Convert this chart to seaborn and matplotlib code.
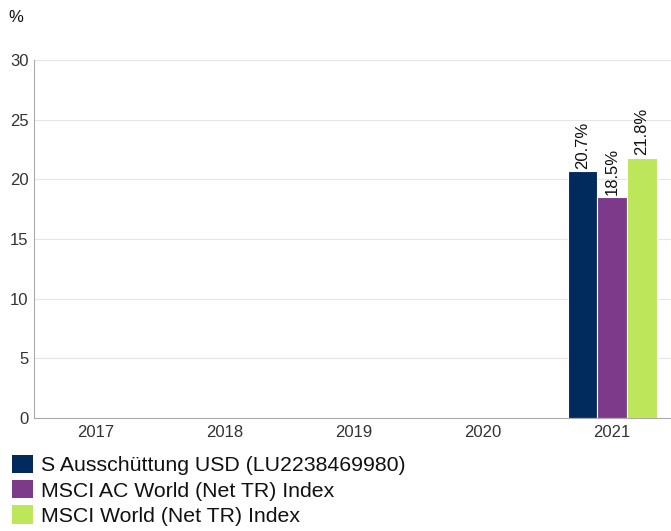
import matplotlib
matplotlib.use("Agg")
import matplotlib.pyplot as plt
import seaborn as sns
import pandas as pd
import numpy as np
from matplotlib.patches import Patch

years = ["2017", "2018", "2019", "2020", "2021"]
series = ["S Ausschüttung USD (LU2238469980)", "MSCI AC World (Net TR) Index", "MSCI World (Net TR) Index"]
fund = [np.nan, np.nan, np.nan, np.nan, 20.7]
acwi = [np.nan, np.nan, np.nan, np.nan, 18.5]
world = [np.nan, np.nan, np.nan, np.nan, 21.8]
colors = ["#002b5c", "#7e3a8a", "#bde65a"]
yticks = [0, 5, 10, 15, 20, 25, 30]

rows = []
for name, vals in zip(series, [fund, acwi, world]):
    for y, v in zip(years, vals):
        rows.append({"year": y, "series": name, "value": v})
df = pd.DataFrame(rows)

sns.set_style("white")
plt.rcParams["font.family"] = ["Liberation Sans", "DejaVu Sans"]

fig = plt.figure(figsize=(6.71, 5.31), dpi=100)
ax = fig.add_axes([34/671, 113/531, 1 - 34/671, 358/531])
sns.barplot(data=df.dropna(), x="year", y="value", hue="series", order=years,
            hue_order=series, palette=colors, ax=ax, width=0.69, saturation=1,
            edgecolor="white", linewidth=0.8, legend=False, errorbar=None)

for cont in ax.containers:
    for bar in cont:
        h = bar.get_height()
        if np.isfinite(h) and h > 0:
            ax.text(bar.get_x() + bar.get_width()/2, h + 0.2, f"{h:.1f}%",
                    rotation=90, ha="center", va="bottom", fontsize=12, color="#111111")

ax.set_ylim(0, 30)
ax.set_xlim(-0.48, 4.457)
ax.set_yticks(yticks)
ax.set_yticklabels([str(t) for t in yticks])
ax.set_xlabel("")
ax.set_ylabel("")
ax.yaxis.grid(True, color="#e6e6e6", linewidth=0.8)
ax.set_axisbelow(True)
for s in ["top", "right"]:
    ax.spines[s].set_visible(False)
ax.spines["left"].set_color("#aaaaaa")
ax.spines["bottom"].set_color("#aaaaaa")
ax.tick_params(axis="both", length=0, labelsize=12, colors="#333333")
ax.tick_params(axis="y", pad=4)
ax.tick_params(axis="x", pad=5)
fig.text(8/671, 1 - 17/531, "%", fontsize=12, va="center", ha="left", color="#111111")

handles = [Patch(facecolor=c, edgecolor="none") for c in colors]
fig.legend(handles, series, loc="upper left", bbox_to_anchor=(12/671, 1 - 455/531),
           frameon=False, fontsize=15.3, handlelength=1.0, handleheight=0.95,
           handletextpad=0.35, labelspacing=0.22, borderaxespad=0, borderpad=0,
           labelcolor="#111111")

fig.savefig("out.png", dpi=100)
